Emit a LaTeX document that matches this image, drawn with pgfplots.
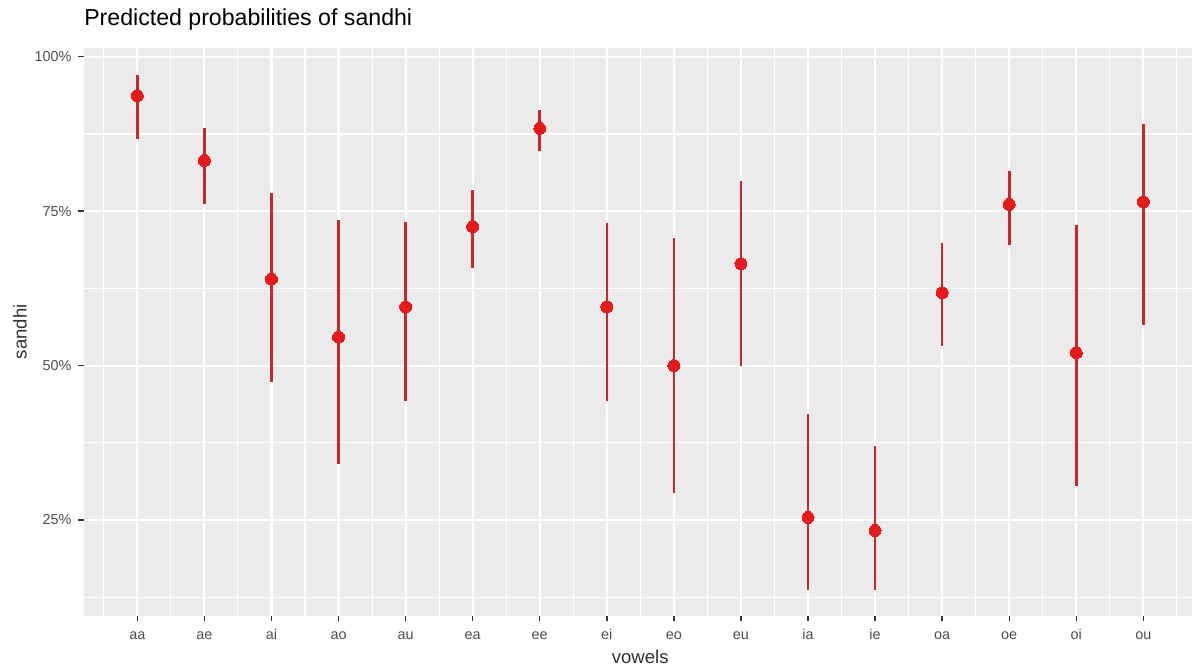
\documentclass[border=0pt]{standalone}
\usepackage{pgfplots}
\pgfplotsset{compat=1.18}
\usepackage{pgfplotstable}
\usepackage{fontspec}
\setmainfont{Liberation Sans}

\definecolor{panel}{HTML}{EBEBEB}
\definecolor{ptred}{HTML}{E41A1C}
\definecolor{barred}{HTML}{C8282D}
\definecolor{ticktext}{HTML}{4D4D4D}
\definecolor{tickline}{HTML}{333333}
\definecolor{labeltext}{HTML}{303030}

% predicted probability of sandhi (%) with lower / upper interval limits
\pgfplotstableread{
x  p     lo    hi
0  93.7  86.7  97.1
1  83.2  76.1  88.5
2  64.0  47.3  77.9
3  54.6  34.0  73.6
4  59.5  44.2  73.3
5  72.5  65.8  78.5
6  88.4  84.7  91.4
7  59.5  44.2  73.1
8  50.0  29.4  70.6
9  66.5  49.9  79.9
10 25.4  13.7  42.2
11 23.3  13.7  36.9
12 61.8  53.2  69.9
13 76.1  69.6  81.5
14 52.1  30.5  72.8
15 76.5  56.6  89.1
}\probs

\begin{document}
\begin{tikzpicture}[x=1pt,y=1pt]
\path[use as bounding box] (0,0) rectangle (894,499.5);
\begin{axis}[
  at={(63pt,37.7pt)}, anchor=south west,
  scale only axis, width=831pt, height=426pt,
  xmin=-0.795, xmax=15.725, ymin=9.5, ymax=101.46,
  axis background/.style={fill=panel},
  axis line style={draw=none},
  xtick={0,...,15},
  xticklabels={aa,ae,ai,ao,au,ea,ee,ei,eo,eu,ia,ie,oa,oe,oi,ou},
  minor xtick={-0.5,0.5,...,15.5},
  ytick={25,50,75,100},
  yticklabels={25\%,50\%,75\%,100\%},
  minor ytick={12.5,37.5,62.5,87.5},
  grid=both,
  major grid style={draw=white, line width=1.6pt},
  minor grid style={draw=white, line width=0.85pt},
  tick align=outside,
  xtick pos=bottom, ytick pos=left,
  major tick length=4.2pt, minor tick length=0pt,
  major tick style={draw=tickline, line width=1.1pt},
  minor tick style={draw=none},
  tick label style={font=\fontsize{10.8}{12}\selectfont, text=ticktext},
  yticklabel style={anchor=east, inner sep=0pt, xshift=-5.0pt},
  xticklabel style={anchor=base, inner sep=0pt, yshift=-14.0pt},
  title={Predicted probabilities of sandhi},
  title style={at={(axis description cs:0,1.025)}, anchor=base west,
    inner sep=0pt, font=\fontsize{17.35}{20}\selectfont, text=black},
  xlabel={vowels},
  xlabel style={at={(axis description cs:0.502,-0.0833)}, anchor=base,
    inner sep=0pt, font=\fontsize{13.9}{16}\selectfont, text=labeltext},
  ylabel={sandhi},
  ylabel style={at={(axis description cs:-0.0517,0.5)}, anchor=base,
    inner sep=0pt, font=\fontsize{13.9}{16}\selectfont, text=labeltext},
]
\addplot[color=ptred, only marks, mark=*, mark size=4.5pt,
  mark options={draw=ptred, fill=ptred, line width=0pt},
  error bars/.cd, y dir=both, y explicit,
  error bar style={draw=barred, line width=1.9pt},
  error mark=none]
  table[x=x, y=p,
    y error plus expr=\thisrow{hi}-\thisrow{p},
    y error minus expr=\thisrow{p}-\thisrow{lo}] {\probs};
\end{axis}
\end{tikzpicture}
\end{document}
